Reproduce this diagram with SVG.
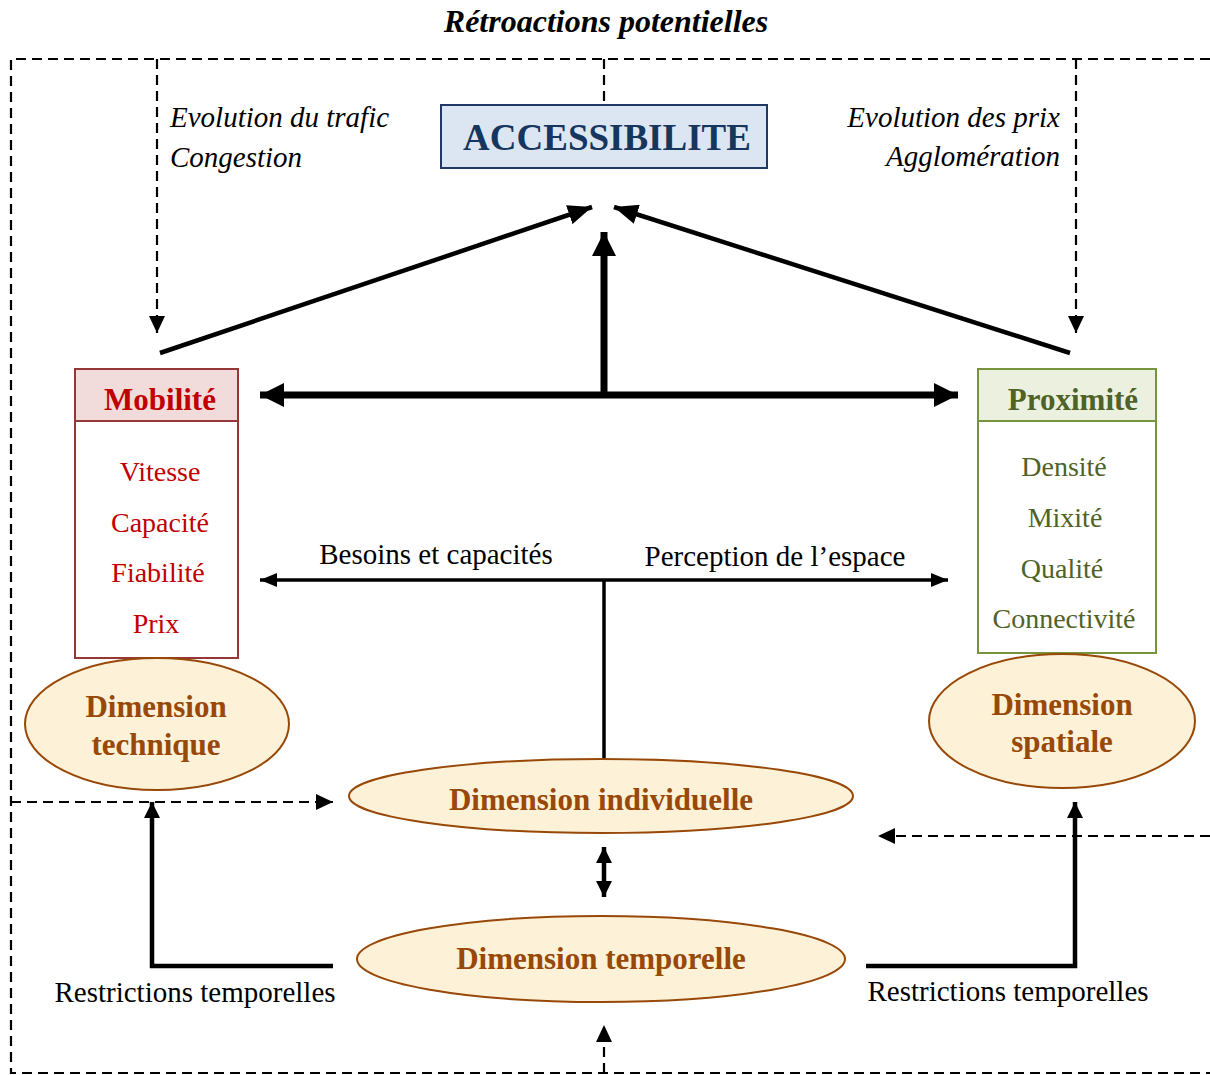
<svg xmlns="http://www.w3.org/2000/svg" width="1210" height="1075" viewBox="0 0 1210 1075">
<defs>
<style>
text{font-family:"Liberation Serif","Times New Roman",serif;}
.dash{fill:none;stroke:#000;stroke-width:2.2;stroke-dasharray:10,6;}
.thin{fill:none;stroke:#000;stroke-width:3.5;}
.thick{fill:none;stroke:#000;stroke-width:7;}
.med{fill:none;stroke:#000;stroke-width:4.5;}
.it{font-style:italic;font-size:29px;fill:#000;}
.reg{font-size:29px;fill:#000;}
.ell{fill:#fdf1d8;stroke:#984807;stroke-width:2;}
.etxt{font-weight:bold;font-size:31px;fill:#984807;text-anchor:middle;}
.mob{font-size:28px;fill:#c00000;text-anchor:middle;}
.prox{font-size:28px;fill:#4f6228;text-anchor:middle;}
</style>
<marker id="ahDash" markerUnits="userSpaceOnUse" viewBox="0 0 17 16" refX="17" refY="8" markerWidth="17" markerHeight="16" orient="auto"><path d="M0,0 L17,8 L0,16 z" fill="#000"/></marker>
<marker id="ahThin" markerUnits="userSpaceOnUse" viewBox="0 0 24 20" refX="24" refY="10" markerWidth="24" markerHeight="20" orient="auto"><path d="M0,0 L24,10 L0,20 z" fill="#000"/></marker>
<marker id="ahThick" markerUnits="userSpaceOnUse" viewBox="0 0 24 24" refX="24" refY="12" markerWidth="24" markerHeight="24" orient="auto"><path d="M0,0 L24,12 L0,24 z" fill="#000"/></marker>
<marker id="ahThickS" markerUnits="userSpaceOnUse" viewBox="0 0 24 24" refX="0" refY="12" markerWidth="24" markerHeight="24" orient="auto"><path d="M24,0 L0,12 L24,24 z" fill="#000"/></marker>
<marker id="ahLine" markerUnits="userSpaceOnUse" viewBox="0 0 17 14" refX="17" refY="7" markerWidth="17" markerHeight="14" orient="auto"><path d="M0,0 L17,7 L0,14 z" fill="#000"/></marker>
<marker id="ahLineS" markerUnits="userSpaceOnUse" viewBox="0 0 17 14" refX="0" refY="7" markerWidth="17" markerHeight="14" orient="auto"><path d="M17,0 L0,7 L17,14 z" fill="#000"/></marker>
<marker id="ahSm" markerUnits="userSpaceOnUse" viewBox="0 0 16 16" refX="16" refY="8" markerWidth="16" markerHeight="16" orient="auto"><path d="M0,0 L16,8 L0,16 z" fill="#000"/></marker>
<marker id="ahSmS" markerUnits="userSpaceOnUse" viewBox="0 0 16 16" refX="0" refY="8" markerWidth="16" markerHeight="16" orient="auto"><path d="M16,0 L0,8 L16,16 z" fill="#000"/></marker>
</defs>
<rect width="1210" height="1075" fill="#fff"/>

<text x="606" y="32" text-anchor="middle" style="font-weight:bold;font-style:italic;font-size:32px;">Rétroactions potentielles</text>

<g id="connectors">
  <path class="dash" d="M1210,59 L11,59 L11,1073 L1210,1073"/>
  <path class="dash" d="M157,59 L157,333" marker-end="url(#ahDash)"/>
  <path class="dash" d="M604,59 L604,104"/>
  <path class="dash" d="M1076,59 L1076,333" marker-end="url(#ahDash)"/>
  <path class="dash" d="M11,802 L333,802" marker-end="url(#ahDash)"/>
  <path class="dash" d="M1210,836 L878,836" marker-end="url(#ahDash)"/>
  <path class="dash" d="M604,1073 L604,1025" marker-end="url(#ahDash)"/>
  <path class="med" d="M160,353 L592,207" marker-end="url(#ahThin)"/>
  <path class="med" d="M1070,353 L614,207" marker-end="url(#ahThin)"/>
  <path class="thick" d="M604,395 L604,232" marker-end="url(#ahThick)"/>
  <path class="thick" d="M260,395 L958,395" marker-start="url(#ahThickS)" marker-end="url(#ahThick)"/>
  <path class="thin" d="M260,580 L948,580" marker-start="url(#ahLineS)" marker-end="url(#ahLine)"/>
  <path class="thin" d="M604,580 L604,760"/>
  <path class="med" d="M604,847 L604,897" marker-start="url(#ahSmS)" marker-end="url(#ahSm)"/>
  <path class="med" d="M333,966 L152,966 L152,802" marker-end="url(#ahSm)"/>
  <path class="med" d="M866,966 L1075,966 L1075,802" marker-end="url(#ahSm)"/>
</g>

<g id="labels">
  <text class="it" x="170" y="127">Evolution du trafic</text>
  <text class="it" x="170" y="167">Congestion</text>
  <text class="it" x="1060" y="127" text-anchor="end">Evolution des prix</text>
  <text class="it" x="1060" y="166" text-anchor="end">Agglomération</text>
  <text class="reg" x="436" y="564" text-anchor="middle">Besoins et capacités</text>
  <text class="reg" x="775" y="566" text-anchor="middle">Perception de l’espace</text>
  <text class="reg" x="195" y="1002" text-anchor="middle">Restrictions temporelles</text>
  <text class="reg" x="1008" y="1001" text-anchor="middle">Restrictions temporelles</text>
</g>

<g id="accessibilite">
  <rect x="441" y="105" width="326" height="63" fill="#dce6f2" stroke="#1f3864" stroke-width="2"/>
  <text x="607" y="150" text-anchor="middle" style="font-weight:bold;font-size:37px;fill:#17365d;">ACCESSIBILITE</text>
</g>

<g id="mobilite">
  <rect x="75" y="369" width="163" height="289" fill="#fff" stroke="#953735" stroke-width="2"/>
  <rect x="75" y="369" width="163" height="52" fill="#f2dcdb" stroke="#953735" stroke-width="2"/>
  <text x="160" y="410" text-anchor="middle" style="font-weight:bold;font-size:31px;fill:#c00000;">Mobilité</text>
  <text class="mob" x="160" y="481">Vitesse</text>
  <text class="mob" x="160" y="532">Capacité</text>
  <text class="mob" x="158" y="582">Fiabilité</text>
  <text class="mob" x="156" y="633">Prix</text>
</g>

<g id="proximite">
  <rect x="978" y="369" width="178" height="284" fill="#fff" stroke="#77933c" stroke-width="2"/>
  <rect x="978" y="369" width="178" height="52" fill="#ebf1de" stroke="#77933c" stroke-width="2"/>
  <text x="1073" y="410" text-anchor="middle" style="font-weight:bold;font-size:31px;fill:#4f6228;">Proximité</text>
  <text class="prox" x="1064" y="476">Densité</text>
  <text class="prox" x="1065" y="527">Mixité</text>
  <text class="prox" x="1062" y="578">Qualité</text>
  <text class="prox" x="1064" y="628">Connectivité</text>
</g>

<g id="dim-technique">
  <ellipse class="ell" cx="157" cy="724" rx="132" ry="66"/>
  <text class="etxt" x="156" y="717">Dimension</text>
  <text class="etxt" x="156" y="755">technique</text>
</g>

<g id="dim-spatiale">
  <ellipse class="ell" cx="1062" cy="721" rx="133" ry="67"/>
  <text class="etxt" x="1062" y="715">Dimension</text>
  <text class="etxt" x="1062" y="752">spatiale</text>
</g>

<g id="dim-individuelle">
  <ellipse class="ell" cx="601" cy="796" rx="252" ry="37"/>
  <text class="etxt" x="601" y="810">Dimension individuelle</text>
</g>

<g id="dim-temporelle">
  <ellipse class="ell" cx="601" cy="959" rx="244" ry="43"/>
  <text class="etxt" x="601" y="969">Dimension temporelle</text>
</g>
</svg>
